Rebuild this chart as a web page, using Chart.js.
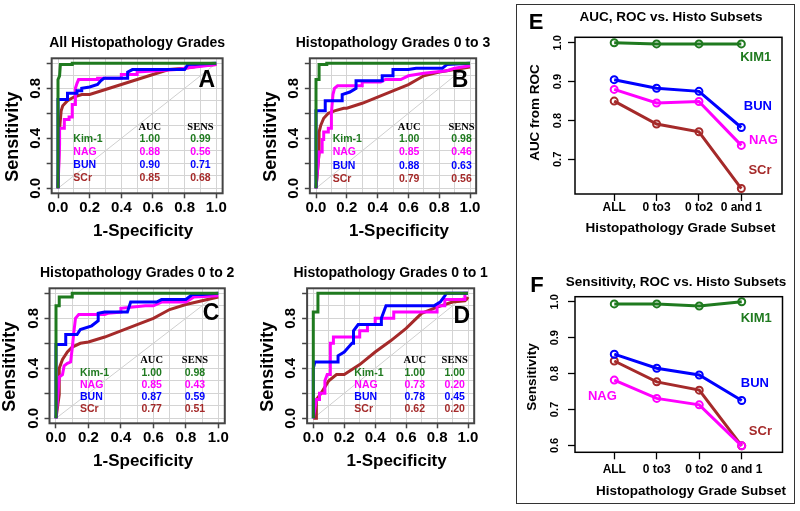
<!DOCTYPE html>
<html>
<head>
<meta charset="utf-8">
<script src="https://cdn.jsdelivr.net/npm/chart.js@4.4.0/dist/chart.umd.min.js"></script>
<style>
  body { margin: 0; background: #fff; }
  #wrap { position: relative; width: 800px; height: 511px; overflow: hidden; }
  #wrap canvas { position: absolute; left: 0; top: 0; }
  #frame { position: absolute; left: 516px; top: 4px; width: 277px; height: 498px; border: 1.5px solid #333; }
</style>
</head>
<body>
<div id="wrap">
  <div id="frame"></div>
  <canvas id="cA" width="800" height="511"></canvas>
  <canvas id="cB" width="800" height="511"></canvas>
  <canvas id="cC" width="800" height="511"></canvas>
  <canvas id="cD" width="800" height="511"></canvas>
  <canvas id="cE" width="800" height="511"></canvas>
  <canvas id="cF" width="800" height="511"></canvas>
</div>
<script>
// ---- data ----
const markerNames = ['Kim-1', 'NAG', 'BUN', 'SCr'];

// ROC curves, [1-specificity, sensitivity]
const rocA_kim1 = [[0,0],[0,0.87],[0.01,0.9],[0.015,0.99],[0.09,0.99],[0.09,1],[1,1]];
const rocA_bun = [[0,0],[0,0.71],[0.06,0.71],[0.06,0.76],[0.12,0.76],[0.12,0.78],[0.15,0.78],[0.15,0.8],[0.2,0.81],[0.25,0.83],[0.27,0.86],[0.29,0.88],[0.44,0.88],[0.44,0.93],[0.47,0.95],[0.8,0.95],[0.82,0.99],[1,1]];
const rocA_nag = [[0,0],[0.01,0.35],[0.01,0.48],[0.04,0.48],[0.04,0.55],[0.07,0.55],[0.07,0.57],[0.09,0.57],[0.09,0.67],[0.11,0.67],[0.11,0.8],[0.12,0.84],[0.13,0.87],[0.25,0.87],[0.25,0.88],[0.4,0.88],[0.4,0.91],[0.5,0.91],[0.5,0.93],[0.75,0.95],[0.8,0.96],[1,0.99]];
const rocA_scr = [[0,0],[0.01,0.48],[0.02,0.62],[0.03,0.66],[0.06,0.7],[0.1,0.73],[0.15,0.75],[0.2,0.75],[0.3,0.79],[0.4,0.83],[0.5,0.87],[0.6,0.91],[0.7,0.95],[0.8,0.96],[0.9,0.98],[1,0.99]];

const rocB_kim1 = [[0,0],[0,0.87],[0.02,0.87],[0.02,0.99],[0.07,0.99],[0.07,1],[1,1]];
const rocB_bun = [[0,0],[0,0.62],[0.06,0.62],[0.06,0.7],[0.17,0.7],[0.17,0.75],[0.22,0.77],[0.26,0.8],[0.26,0.86],[0.43,0.86],[0.43,0.9],[0.5,0.9],[0.5,0.95],[0.6,0.95],[0.65,0.96],[0.82,0.96],[0.85,0.99],[1,1]];
const rocB_nag = [[0,0],[0.02,0.29],[0.04,0.29],[0.04,0.39],[0.05,0.39],[0.05,0.45],[0.08,0.45],[0.08,0.48],[0.1,0.48],[0.1,0.6],[0.11,0.75],[0.12,0.8],[0.14,0.82],[0.3,0.82],[0.3,0.85],[0.42,0.85],[0.45,0.87],[0.55,0.87],[0.6,0.9],[0.7,0.92],[0.85,0.94],[0.9,0.96],[1,0.98]];
const rocB_scr = [[0,0],[0.02,0.28],[0.02,0.45],[0.03,0.5],[0.05,0.56],[0.08,0.6],[0.12,0.62],[0.18,0.64],[0.2,0.64],[0.3,0.68],[0.4,0.73],[0.5,0.78],[0.6,0.83],[0.7,0.9],[0.8,0.93],[0.9,0.95],[1,0.97]];

const rocC_kim1 = [[0,0],[0,0.9],[0.02,0.9],[0.02,0.97],[0.1,0.97],[0.1,1],[1,1]];
const rocC_bun = [[0,0],[0,0.59],[0.06,0.59],[0.06,0.67],[0.13,0.67],[0.15,0.71],[0.22,0.74],[0.26,0.78],[0.26,0.84],[0.3,0.85],[0.44,0.85],[0.46,0.93],[0.62,0.93],[0.65,0.95],[0.8,0.95],[0.84,0.99],[0.9,0.99],[1,1]];
const rocC_nag = [[0,0],[0.02,0.33],[0.04,0.35],[0.05,0.42],[0.07,0.44],[0.09,0.45],[0.1,0.56],[0.11,0.69],[0.12,0.8],[0.14,0.83],[0.3,0.83],[0.32,0.84],[0.4,0.85],[0.4,0.88],[0.55,0.9],[0.6,0.9],[0.65,0.93],[0.8,0.93],[0.85,0.97],[1,0.98]];
const rocC_scr = [[0,0],[0.02,0.19],[0.02,0.4],[0.04,0.47],[0.07,0.53],[0.1,0.57],[0.15,0.6],[0.2,0.61],[0.3,0.65],[0.4,0.7],[0.5,0.75],[0.6,0.8],[0.7,0.87],[0.8,0.91],[0.9,0.94],[1,0.97]];

const rocD_kim1 = [[0,0],[0,0.85],[0.03,0.85],[0.03,1],[1,1]];
const rocD_bun = [[0,0],[0,0.4],[0.01,0.45],[0.16,0.45],[0.16,0.5],[0.2,0.53],[0.25,0.6],[0.26,0.6],[0.26,0.7],[0.29,0.75],[0.44,0.75],[0.44,0.8],[0.47,0.9],[0.78,0.9],[0.82,0.93],[0.85,0.98],[0.86,1],[1,1]];
const rocD_nag = [[0,0],[0.02,0.15],[0.04,0.15],[0.04,0.2],[0.075,0.2],[0.075,0.3],[0.09,0.35],[0.11,0.35],[0.11,0.6],[0.13,0.6],[0.13,0.65],[0.3,0.65],[0.3,0.7],[0.35,0.7],[0.35,0.75],[0.4,0.75],[0.4,0.8],[0.52,0.8],[0.52,0.85],[0.8,0.85],[0.8,0.9],[0.85,0.9],[0.85,0.95],[0.98,0.95],[0.98,1],[1,1]];
const rocD_scr = [[0,0],[0.02,0],[0.02,0.15],[0.05,0.2],[0.1,0.3],[0.15,0.35],[0.2,0.35],[0.3,0.43],[0.4,0.53],[0.5,0.62],[0.6,0.72],[0.7,0.84],[0.8,0.89],[0.9,0.93],[0.98,0.94],[0.99,0.95],[1,0.97]];

// table values, order Kim-1, NAG, BUN, SCr
const aucA = [1.00, 0.88, 0.90, 0.85], sensA = [0.99, 0.56, 0.71, 0.68];
const aucB = [1.00, 0.85, 0.88, 0.79], sensB = [0.98, 0.46, 0.63, 0.56];
const aucC = [1.00, 0.85, 0.87, 0.77], sensC = [0.98, 0.43, 0.59, 0.51];
const aucD = [1.00, 0.73, 0.78, 0.62], sensD = [1.00, 0.20, 0.45, 0.20];

// panels E and F
const subsets = ['ALL', '0 to3', '0 to2', '0 and 1'];
const aucKim1 = [1.0, 0.997, 0.997, 0.997];
const aucBun = [0.905, 0.883, 0.875, 0.782];
const aucNag = [0.880, 0.845, 0.849, 0.736];
const aucScr = [0.850, 0.791, 0.771, 0.625];
const sensKim1 = [0.994, 0.994, 0.988, 1.0];
const sensBun = [0.854, 0.815, 0.796, 0.725];
const sensNag = [0.782, 0.731, 0.713, 0.599];
const sensScr = [0.835, 0.777, 0.754, 0.599];

// ---- drawing ----
const SANS = '"Liberation Sans", Arial, sans-serif';
const SERIF = '"Liberation Serif", "Times New Roman", serif';
const GREEN = '#1f7a1f', MAGENTA = '#ff00ff', BLUE = '#0000ff', BROWN = '#a52a2a';
const nameColors = [GREEN, MAGENTA, BLUE, BROWN];

function txt(ctx, s, x, y, font, color, align, rot) {
  ctx.save();
  ctx.translate(x, y);
  if (rot) ctx.rotate(rot);
  ctx.font = font;
  ctx.fillStyle = color;
  ctx.textAlign = align || 'center';
  ctx.textBaseline = 'middle';
  ctx.fillText(s, 0, 0);
  ctx.restore();
}

const pts = arr => arr.map(p => ({ x: p[0], y: p[1] }));
const isMajor = v => Math.abs(v * 5 - Math.round(v * 5)) < 1e-6;
const tenths = [0, 0.1, 0.2, 0.3, 0.4, 0.5, 0.6, 0.7, 0.8, 0.9, 1.0];

function rocPanel(p) {
  // pixel positions of 0 and 1 on both axes; R adds 4% each side
  const sx = p.x1 - p.x0, sy = p.y0 - p.y1;
  const pad = {
    left: p.x0 - 0.04 * sx, right: 800 - (p.x1 + 0.04 * sx),
    top: p.y1 - 0.04 * sy, bottom: 511 - (p.y0 + 0.04 * sy)
  };
  const line = (data, color) => ({
    data: pts(data), showLine: true, borderColor: color, borderWidth: 3,
    pointRadius: 0, tension: 0, fill: false
  });
  const axis = {
    type: 'linear', min: -0.04, max: 1.04,
    ticks: { display: false },
    border: { display: false },
    afterBuildTicks: s => { s.ticks = tenths.map(v => ({ value: v })); },
    grid: {
      color: '#d4d4d4', lineWidth: 1, drawTicks: true, tickLength: 5, tickWidth: 1.5,
      tickColor: c => (c.tick && isMajor(c.tick.value)) ? '#444' : 'rgba(0,0,0,0)'
    }
  };
  new Chart(document.getElementById(p.id), {
    type: 'scatter',
    data: {
      datasets: [
        line(p.curves[0], GREEN),
        line(p.curves[1], BLUE),
        line(p.curves[2], MAGENTA),
        line(p.curves[3], BROWN),
        { data: pts([[0, 0], [1, 1]]), showLine: true, borderColor: '#cfcfcf', borderWidth: 1, pointRadius: 0 }
      ]
    },
    options: {
      responsive: false, animation: false, events: [],
      layout: { padding: pad },
      plugins: { legend: { display: false }, tooltip: { enabled: false } },
      scales: {
        x: Object.assign({}, axis, { afterFit: s => { s.height = 0; } }),
        y: Object.assign({}, axis, { afterFit: s => { s.width = 0; } })
      }
    },
    plugins: [{
      id: 'rocDeco',
      afterDraw(chart) {
        const { ctx, chartArea: a, scales: { x, y } } = chart;
        ctx.save();
        ctx.strokeStyle = '#444';
        ctx.lineWidth = 2;
        ctx.strokeRect(a.left, a.top, a.right - a.left, a.bottom - a.top);
        ctx.restore();
        const cx = (a.left + a.right) / 2, cy = (a.top + a.bottom) / 2;
        txt(ctx, p.title, cx, a.top - 15, 'bold 14px ' + SANS, '#000');
        [0, 0.2, 0.4, 0.6, 0.8, 1.0].forEach(v =>
          txt(ctx, v.toFixed(1), x.getPixelForValue(v), a.bottom + 15, 'bold 15px ' + SANS, '#000'));
        [0, 0.4, 0.8].forEach(v =>
          txt(ctx, v.toFixed(1), a.left - 16, y.getPixelForValue(v), 'bold 15px ' + SANS, '#000', 'center', -Math.PI / 2));
        txt(ctx, '1-Specificity', cx + 6, a.bottom + 38, 'bold 17px ' + SANS, '#000');
        txt(ctx, 'Sensitivity', a.left - 39, cy + 11, 'bold 18px ' + SANS, '#000', 'center', -Math.PI / 2);
        txt(ctx, p.letter, x.getPixelForValue(p.letterAt[0]), y.getPixelForValue(p.letterAt[1]), 'bold 23px ' + SANS, '#000');
        const t = p.table;
        const ax = x.getPixelForValue(t.aucX), sxp = x.getPixelForValue(t.sensX), nx = x.getPixelForValue(t.nameX);
        txt(ctx, 'AUC', ax, y.getPixelForValue(t.hdrY), 'bold 10.5px ' + SERIF, '#000');
        txt(ctx, 'SENS', sxp, y.getPixelForValue(t.hdrY), 'bold 10.5px ' + SERIF, '#000');
        markerNames.forEach((n, i) => {
          const py = y.getPixelForValue(t.rowsY[i]);
          const f = 'bold 10.5px ' + SANS;
          txt(ctx, n, nx, py, f, nameColors[i], 'left');
          txt(ctx, p.auc[i].toFixed(2), ax, py, f, nameColors[i]);
          txt(ctx, p.sens[i].toFixed(2), sxp, py, f, nameColors[i]);
        });
      }
    }]
  });
}

rocPanel({ id: 'cA', x0: 58, x1: 216.3, y0: 188.3, y1: 63.3,
  title: 'All Histopathology Grades', letter: 'A', letterAt: [0.94, 0.86],
  curves: [rocA_kim1, rocA_bun, rocA_nag, rocA_scr], auc: aucA, sens: sensA,
  table: { hdrY: 0.49, nameX: 0.097, aucX: 0.58, sensX: 0.90, rowsY: [0.392, 0.288, 0.186, 0.08] } });
rocPanel({ id: 'cB', x0: 316, x1: 470, y0: 188.3, y1: 63.3,
  title: 'Histopathology Grades 0 to 3', letter: 'B', letterAt: [0.935, 0.86],
  curves: [rocB_kim1, rocB_bun, rocB_nag, rocB_scr], auc: aucB, sens: sensB,
  table: { hdrY: 0.49, nameX: 0.108, aucX: 0.605, sensX: 0.945, rowsY: [0.392, 0.288, 0.181, 0.07] } });
rocPanel({ id: 'cC', x0: 56, x1: 218.3, y0: 418.3, y1: 293.3,
  title: 'Histopathology Grades 0 to 2', letter: 'C', letterAt: [0.955, 0.84],
  curves: [rocC_kim1, rocC_bun, rocC_nag, rocC_scr], auc: aucC, sens: sensC,
  table: { hdrY: 0.467, nameX: 0.148, aucX: 0.589, sensX: 0.856, rowsY: [0.365, 0.267, 0.173, 0.072] } });
rocPanel({ id: 'cD', x0: 313.3, x1: 468, y0: 418.3, y1: 293.3,
  title: 'Histopathology Grades 0 to 1', letter: 'D', letterAt: [0.96, 0.81],
  curves: [rocD_kim1, rocD_bun, rocD_nag, rocD_scr], auc: aucD, sens: sensD,
  table: { hdrY: 0.467, nameX: 0.265, aucX: 0.656, sensX: 0.914, rowsY: [0.365, 0.267, 0.173, 0.072] } });

function subsetPanel(p) {
  const series = (vals, color) => ({
    data: vals.map((v, i) => ({ x: i + 1, y: v })), showLine: true,
    borderColor: color, borderWidth: 3, tension: 0,
    pointRadius: 3.5, pointBorderWidth: 2, pointBorderColor: color,
    pointBackgroundColor: 'rgba(0,0,0,0)'
  });
  const common = {
    type: 'linear', ticks: { display: false }, border: { display: false },
    grid: { drawOnChartArea: false, drawTicks: true, tickLength: 7, tickWidth: 1.3, tickColor: '#000' }
  };
  new Chart(document.getElementById(p.id), {
    type: 'scatter',
    data: {
      datasets: [
        series(p.vals[0], GREEN), series(p.vals[1], BLUE),
        series(p.vals[2], MAGENTA), series(p.vals[3], BROWN)
      ]
    },
    options: {
      responsive: false, animation: false, events: [],
      layout: { padding: { left: p.box[0], top: p.box[2], right: 800 - p.box[1], bottom: 511 - p.box[3] } },
      plugins: { legend: { display: false }, tooltip: { enabled: false } },
      scales: {
        x: Object.assign({}, common, { min: 0.075, max: 4.96,
          afterBuildTicks: s => { s.ticks = subsets.map((c, i) => ({ value: i + 1 })); },
          afterFit: s => { s.height = 0; } }),
        y: Object.assign({}, common, { min: p.yRange[0], max: p.yRange[1],
          afterBuildTicks: s => { s.ticks = p.yTicks.map(v => ({ value: v })); },
          afterFit: s => { s.width = 0; } })
      }
    },
    plugins: [{
      id: 'subsetDeco',
      afterDraw(chart) {
        const { ctx, chartArea: a, scales: { x, y } } = chart;
        ctx.save();
        ctx.strokeStyle = '#000';
        ctx.lineWidth = 1.5;
        ctx.strokeRect(a.left, a.top, a.right - a.left, a.bottom - a.top);
        ctx.restore();
        txt(ctx, p.title, p.titleAt[0], p.titleAt[1], 'bold 13.5px ' + SANS, '#000');
        txt(ctx, p.letter, p.letterAt[0], p.letterAt[1], 'bold 22px ' + SANS, '#000');
        subsets.forEach((c, i) =>
          txt(ctx, c, x.getPixelForValue(i + 1), p.xTickY, 'bold 12px ' + SANS, '#000'));
        p.yTicks.forEach(v =>
          txt(ctx, v.toFixed(1), p.yTickX, y.getPixelForValue(v), 'bold 11px ' + SANS, '#000', 'center', -Math.PI / 2));
        txt(ctx, 'Histopathology Grade Subset', p.xTitleAt[0], p.xTitleAt[1], 'bold 13.5px ' + SANS, '#000');
        txt(ctx, p.yTitle, p.yTitleAt[0], p.yTitleAt[1], 'bold 13.5px ' + SANS, '#000', 'center', -Math.PI / 2);
        ['KIM1', 'BUN', 'NAG', 'SCr'].forEach((n, i) => {
          const c = [GREEN, BLUE, MAGENTA, BROWN][i];
          const at = p.labelsAt[i];
          txt(ctx, n, x.getPixelForValue(at[0]), y.getPixelForValue(at[1]), 'bold 13px ' + SANS, c);
        });
      }
    }]
  });
}

subsetPanel({ id: 'cE', box: [575, 782, 37.3, 194], yRange: [0.611, 1.014], yTicks: [0.7, 0.8, 0.9, 1.0],
  vals: [aucKim1, aucBun, aucNag, aucScr],
  title: 'AUC, ROC vs. Histo Subsets', titleAt: [671, 17.5], letter: 'E', letterAt: [536, 22.5],
  xTickY: 208, xTitleAt: [680.5, 228.5], yTickX: 558, yTitle: 'AUC from ROC', yTitleAt: [535, 112.5],
  labelsAt: [[4.34, 0.962], [4.39, 0.835], [4.52, 0.748], [4.44, 0.671]] });
subsetPanel({ id: 'cF', box: [575, 782.5, 296.7, 452.3], yRange: [0.581, 1.014], yTicks: [0.6, 0.7, 0.8, 0.9, 1.0],
  vals: [sensKim1, sensBun, sensNag, sensScr],
  title: 'Sensitivity, ROC vs. Histo Subsets', titleAt: [676, 282], letter: 'F', letterAt: [537, 286],
  xTickY: 470, xTitleAt: [691, 491], yTickX: 555, yTitle: 'Sensitivity', yTitleAt: [532, 377],
  labelsAt: [[4.34, 0.953], [4.31, 0.774], [0.72, 0.736], [4.44, 0.639]] });
</script>
</body>
</html>
